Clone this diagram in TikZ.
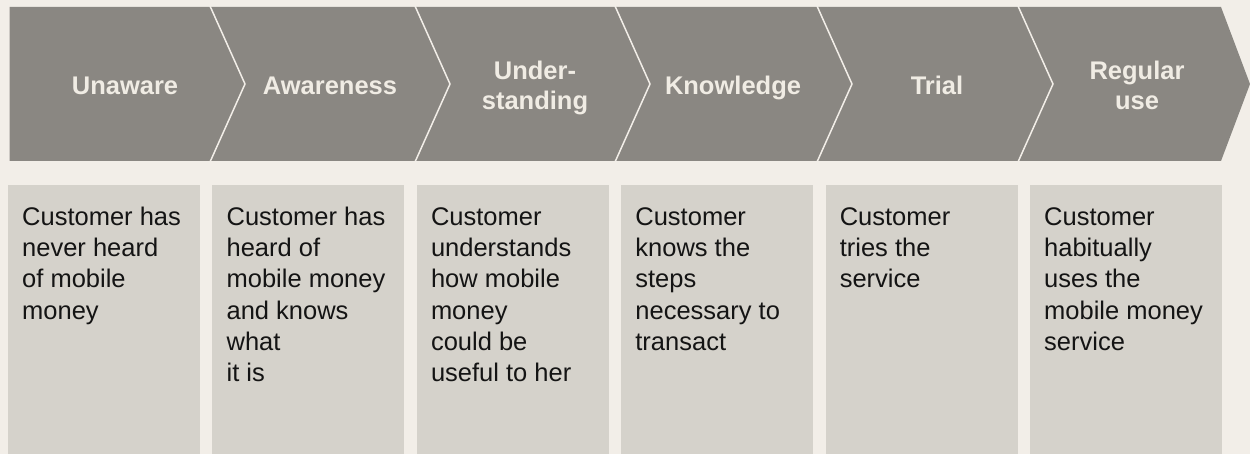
\documentclass[tikz,border=0pt]{standalone}
\usepackage{fontspec}
\setmainfont{Liberation Sans}
\usetikzlibrary{calc}

\definecolor{paper}{HTML}{F2EEE8}
\definecolor{bandgray}{HTML}{8A8782}
\definecolor{cardgray}{HTML}{D5D2CB}
\definecolor{labelwhite}{HTML}{F0ECE4}
\definecolor{inkblack}{HTML}{141414}

\tikzset{
  stagelabel/.style={text=labelwhite, font=\fontsize{25.5}{30}\selectfont\bfseries, align=center, inner sep=0pt},
  cardtext/.style={text=inkblack, font=\fontsize{25.5}{31.3}\selectfont, align=left, anchor=north west, inner sep=0pt},
  card/.style={fill=cardgray, draw=none},
  sepline/.style={draw=paper, line width=1.5pt}
}

\begin{document}
\begin{tikzpicture} [x=1pt, y=-1pt]
\fill[paper] (0,0) rectangle (1250,454);
\useasboundingbox (0,0) rectangle (1250,454);

% the arrow band
\fill[bandgray] (9.5,7) -- (1221,7) -- (1250,84) -- (1221,161) -- (9.5,161) -- cycle;

\foreach \s in {210, 415, 615, 817, 1018}
\draw[sepline] (\s,6) --++(35,78) --++(-35,78);

\foreach \x/\lbl [count=\i] in {125/{\strut Unaware}, 330/{\strut Awareness}, 535/{\strut Under-\\\strut standing}, 733/{\strut Knowledge}, 937/{\strut Trial}, 1137/{\strut Regular\\\strut use}}
\node[stagelabel] (stage\i) at (\x,88.5) {\lbl};

% the cards
\foreach \txt [count=\i, evaluate=\i as \xl using 8+204.4*(\i-1)] in {
  {Customer has\\never heard\\of mobile\\money},
  {Customer has\\heard of\\mobile money\\and knows\\what\\it is},
  {Customer\\understands\\how mobile\\money\\could be\\useful to her},
  {Customer\\knows the\\steps\\necessary to\\transact},
  {Customer\\tries the\\service},
  {Customer\\habitually\\uses the\\mobile money\\service}}
{
\fill[card] (\xl,185) rectangle ++(192,275);
\node[cardtext] (card\i) at ($ (\xl,203.1) +(14,0) $) {\strut\txt};
}

\end{tikzpicture}
\end{document}
